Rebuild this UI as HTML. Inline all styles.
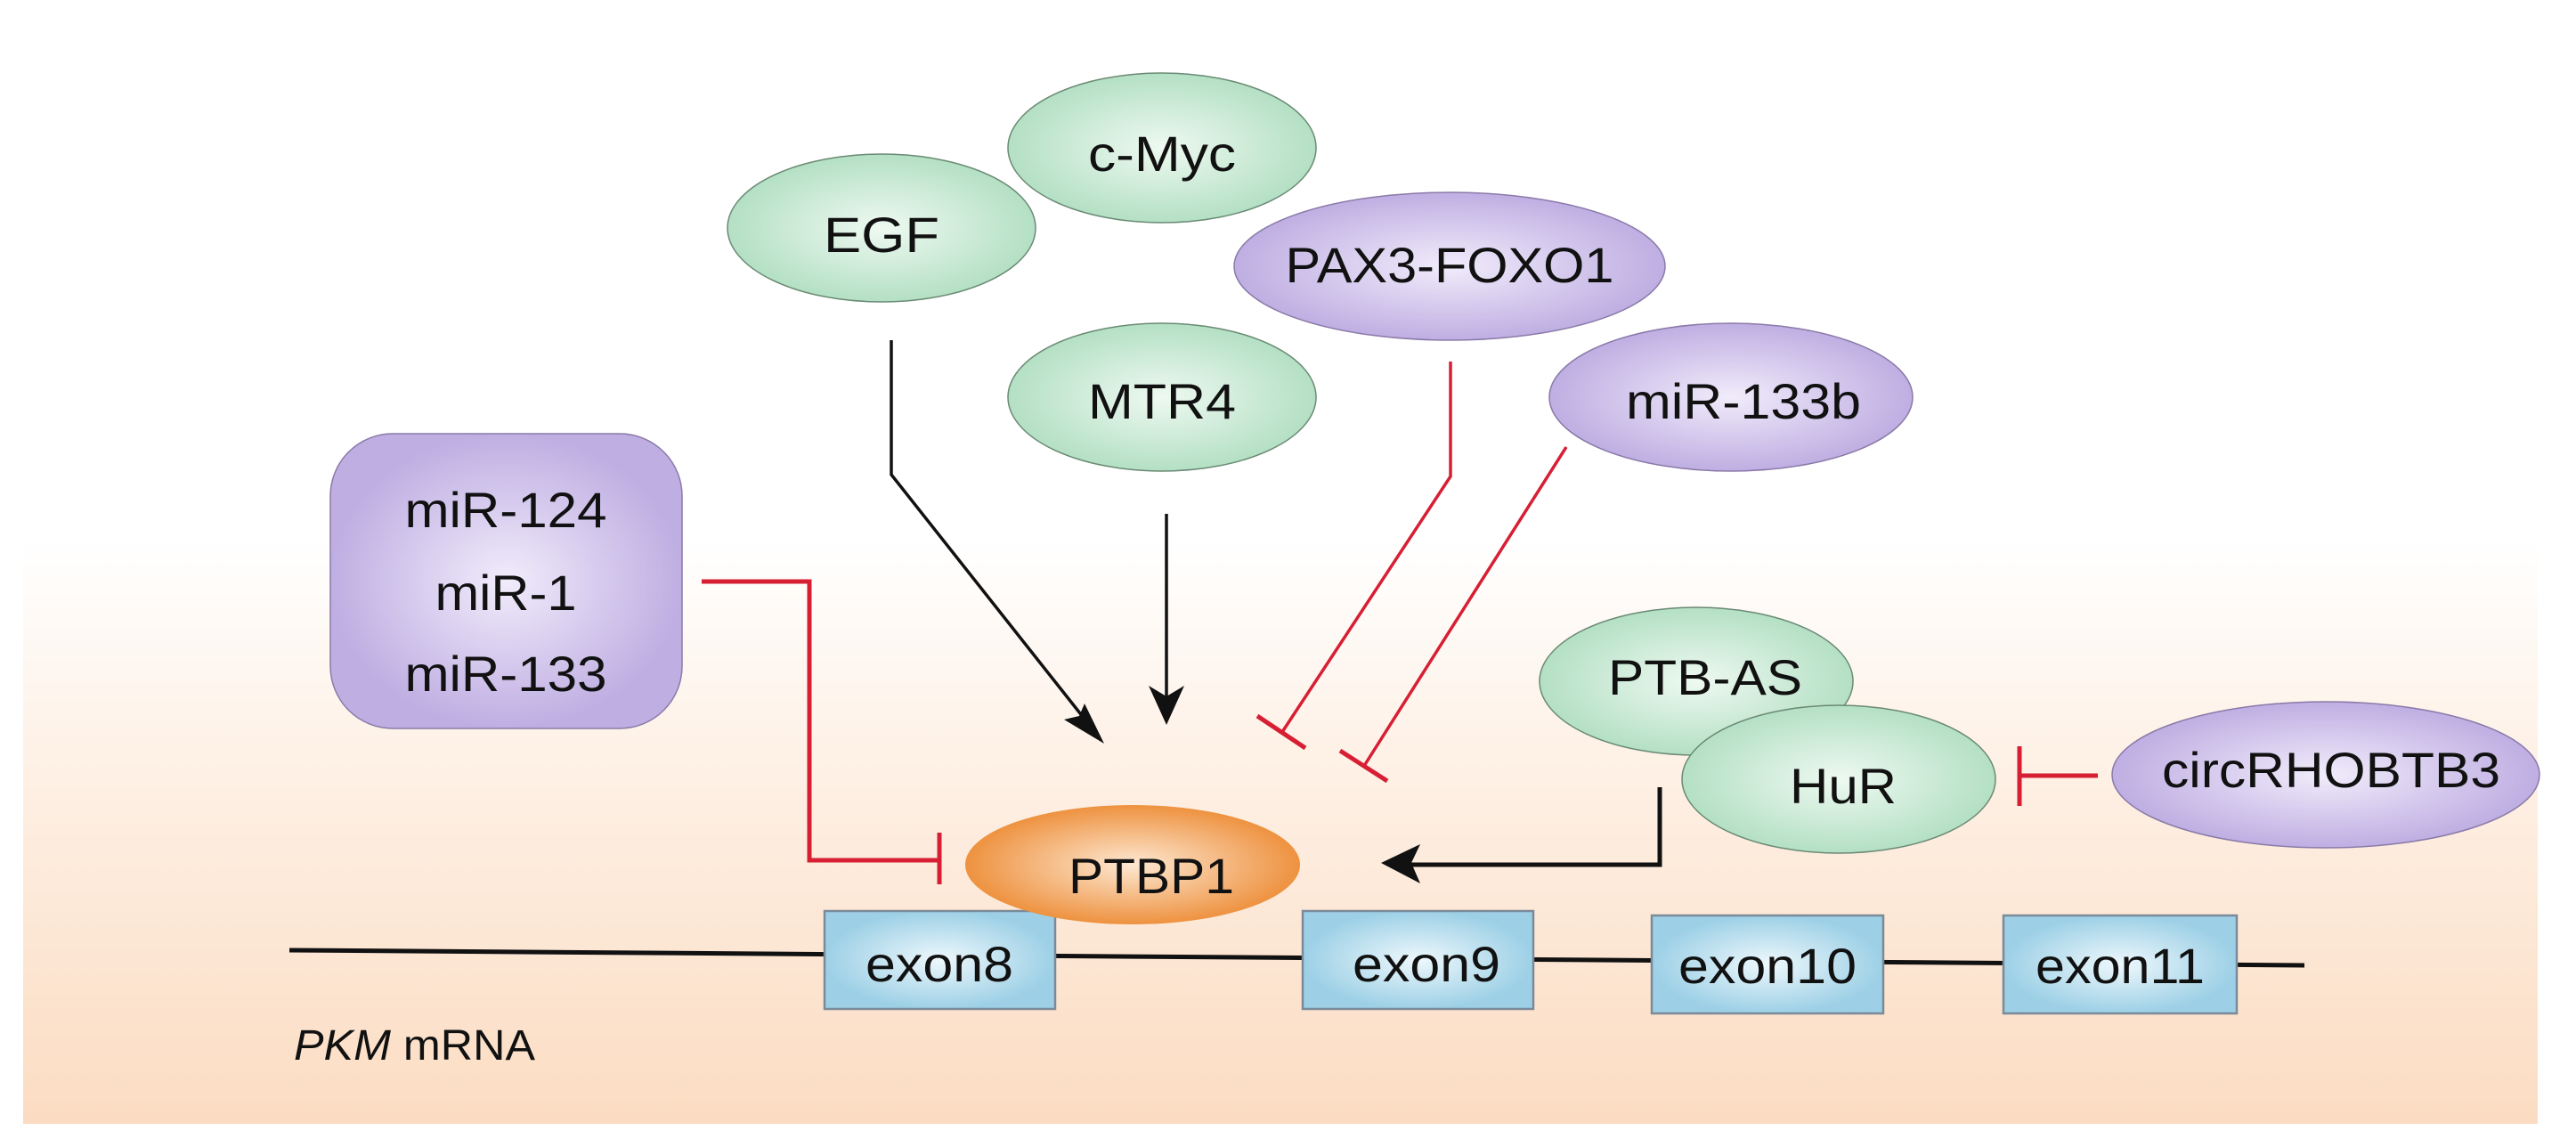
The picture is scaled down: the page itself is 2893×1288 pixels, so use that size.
<!DOCTYPE html>
<html><head><meta charset="utf-8"><style>
html,body{margin:0;padding:0;background:#fff}
svg{display:block}
text{font-family:"Liberation Sans",Arial,sans-serif;font-size:56px;fill:#111;text-anchor:middle}
</style></head><body>
<svg width="2893" height="1288" viewBox="0 0 2893 1288" xmlns="http://www.w3.org/2000/svg">
<defs>
<linearGradient id="bg" x1="0" y1="0" x2="0" y2="1">
<stop offset="0" stop-color="#ffffff"/>
<stop offset="0.48" stop-color="#ffffff"/>
<stop offset="0.66" stop-color="#fef2e8"/>
<stop offset="1" stop-color="#fbdcc2"/>
</linearGradient>
<radialGradient id="gr"><stop offset="0" stop-color="#eef9f1"/><stop offset="1" stop-color="#b4e0c4"/></radialGradient>
<radialGradient id="pu"><stop offset="0" stop-color="#f1ecfb"/><stop offset="1" stop-color="#bfaee2"/></radialGradient>
<radialGradient id="or"><stop offset="0" stop-color="#fde8d2"/><stop offset="1" stop-color="#ee9240"/></radialGradient>
<radialGradient id="bl"><stop offset="0" stop-color="#eef8fc"/><stop offset="1" stop-color="#9dd0e6"/></radialGradient>
</defs>
<rect x="0" y="0" width="2893" height="1288" fill="#fff"/>
<rect x="26" y="0" width="2824" height="1262" fill="url(#bg)"/>

<polyline points="325,1067 2588,1084" fill="none" stroke="#111" stroke-width="5"/>

<g fill="none" stroke-width="3.5">
<polyline points="1001,382 1001,533 1228,820" stroke="#111"/>
<line x1="1310" y1="577" x2="1310" y2="800" stroke="#111"/>
<polyline points="1629,406 1629,535 1440,822" stroke="#d71f34"/>
<line x1="1412" y1="804" x2="1466" y2="840" stroke="#d71f34" stroke-width="5"/>
<line x1="1759" y1="502" x2="1532" y2="860" stroke="#d71f34"/>
<line x1="1505" y1="843" x2="1558" y2="877" stroke="#d71f34" stroke-width="5"/>
<polyline points="788,653 909,653 909,966 1055,966" stroke="#d71f34" stroke-width="5"/>
<line x1="1055" y1="935" x2="1055" y2="993" stroke="#d71f34" stroke-width="5"/>
<polyline points="1864,884 1864,971 1575,971" stroke="#111" stroke-width="5"/>
<line x1="2356" y1="871" x2="2270" y2="871" stroke="#d71f34" stroke-width="5"/>
<line x1="2268" y1="838" x2="2268" y2="905" stroke="#d71f34" stroke-width="5"/>
</g>
<path d="M1240,835 L1195,808 L1212,804 L1218,790 Z" fill="#111"/>
<path d="M1310,814 L1290,770 L1310,782 L1330,770 Z" fill="#111"/>
<path d="M1551,969 L1595,948 L1585,969 L1595,992 Z" fill="#111"/>

<g stroke="#6a8a74" stroke-width="1.5">
<ellipse cx="990" cy="256" rx="173" ry="83" fill="url(#gr)"/>
<ellipse cx="1305" cy="166" rx="173" ry="84" fill="url(#gr)"/>
<ellipse cx="1305" cy="446" rx="173" ry="83" fill="url(#gr)"/>
<ellipse cx="1905" cy="765" rx="176" ry="83" fill="url(#gr)"/>
<ellipse cx="2065" cy="875" rx="176" ry="83" fill="url(#gr)"/>
</g>
<g stroke="#8a7aa8" stroke-width="1.5">
<ellipse cx="1628" cy="299" rx="242" ry="83" fill="url(#pu)"/>
<ellipse cx="1944" cy="446" rx="204" ry="83" fill="url(#pu)"/>
<ellipse cx="2612" cy="870" rx="240" ry="82" fill="url(#pu)"/>
<rect x="371" y="487" width="395" height="331" rx="70" fill="url(#pu)"/>
</g>
<g stroke="#7a8a99" stroke-width="2.5">
<rect x="926" y="1023" width="259" height="110" fill="url(#bl)"/>
<rect x="1463" y="1023" width="259" height="110" fill="url(#bl)"/>
<rect x="1855" y="1028" width="260" height="110" fill="url(#bl)"/>
<rect x="2250" y="1028" width="262" height="110" fill="url(#bl)"/>
</g>
<ellipse cx="1272" cy="971" rx="188" ry="67" fill="url(#or)"/>

<text x="990" y="283" textLength="130" lengthAdjust="spacingAndGlyphs">EGF</text>
<text x="1305" y="192" textLength="166" lengthAdjust="spacingAndGlyphs">c-Myc</text>
<text x="1628" y="317" textLength="369" lengthAdjust="spacingAndGlyphs">PAX3-FOXO1</text>
<text x="1305" y="470" textLength="166" lengthAdjust="spacingAndGlyphs">MTR4</text>
<text x="1958" y="470" textLength="264" lengthAdjust="spacingAndGlyphs">miR-133b</text>
<text x="568" y="592" textLength="227" lengthAdjust="spacingAndGlyphs">miR-124</text>
<text x="568" y="685" textLength="159" lengthAdjust="spacingAndGlyphs">miR-1</text>
<text x="568" y="776" textLength="227" lengthAdjust="spacingAndGlyphs">miR-133</text>
<text x="1915" y="780" textLength="218" lengthAdjust="spacingAndGlyphs">PTB-AS</text>
<text x="2070" y="902" textLength="120" lengthAdjust="spacingAndGlyphs">HuR</text>
<text x="2618" y="884" textLength="380" lengthAdjust="spacingAndGlyphs">circRHOBTB3</text>
<text x="1293" y="1003" textLength="186" lengthAdjust="spacingAndGlyphs">PTBP1</text>
<text x="1055" y="1102" textLength="166" lengthAdjust="spacingAndGlyphs">exon8</text>
<text x="1602" y="1102" textLength="166" lengthAdjust="spacingAndGlyphs">exon9</text>
<text x="1985" y="1104" textLength="200" lengthAdjust="spacingAndGlyphs">exon10</text>
<text x="2381" y="1104" textLength="190" lengthAdjust="spacingAndGlyphs">exon11</text>
<text x="330" y="1190" style="text-anchor:start;font-size:48px" textLength="271" lengthAdjust="spacingAndGlyphs"><tspan font-style="italic">PKM</tspan> mRNA</text>
</svg>
</body></html>
